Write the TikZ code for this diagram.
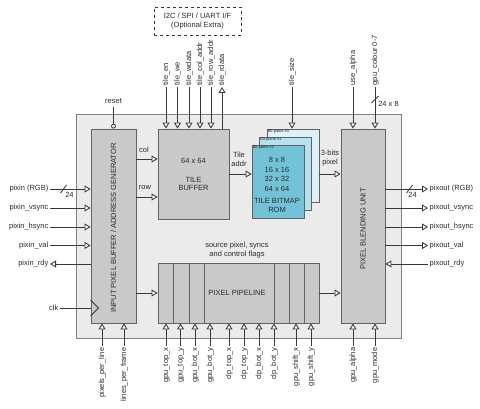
\documentclass[tikz,border=0pt]{standalone}
\usepackage{fontspec}
\setmainfont{Liberation Sans}
\usetikzlibrary{arrows.meta}
\definecolor{txt}{HTML}{2A2A2A}
\definecolor{wire}{HTML}{383838}
\definecolor{edge}{HTML}{626262}
\definecolor{outerfill}{HTML}{EBEBEB}
\definecolor{outeredge}{HTML}{808080}
\definecolor{blkfill}{HTML}{C9C9C9}
\definecolor{bpa}{HTML}{DDF1F7}
\definecolor{bpb}{HTML}{B8E1EE}
\definecolor{bpc}{HTML}{72C3D8}
\begin{document}
\begin{tikzpicture}[x=1pt,y=-1pt,
  font=\fontsize{7.5}{8.6}\selectfont, text=txt,
  blk/.style={draw=edge, fill=blkfill, line width=0.9pt, inner sep=0pt},
  bitp/.style={draw=edge, line width=0.9pt, inner sep=0pt, minimum width=52pt, minimum height=73pt},
  lab/.style={inner sep=1.5pt, text=txt, text height=5.6pt, text depth=1.6pt},
  vlab/.style={lab, rotate=90},
  plain/.style={inner sep=0pt, text=txt, align=center},
  sig/.style={draw=wire, line width=0.85pt, -{Triangle[length=6pt,width=7pt,fill=white]}},
  wireline/.style={draw=wire, line width=0.85pt},
  bplab/.style={inner sep=1pt, anchor=north west, font=\fontsize{4}{4}\selectfont, text=txt}
]
\useasboundingbox (0,0) rectangle (480,409);

% optional interface
\node[draw=wire, dashed, line width=0.85pt, minimum width=87pt, minimum height=28pt, align=center, inner sep=0pt] (iface) at (197.5,21) {I2C / SPI / UART I/F\\(Optional Extra)};

% outer frame
\node[draw=outeredge, fill=outerfill, line width=0.9pt, minimum width=325pt, minimum height=224pt, inner sep=0pt] (outer) at (238.5,226) {};

% blocks
\node[blk, minimum width=45pt, minimum height=194pt] (ipb) at (113.5,226) {};
\node[blk, minimum width=71pt, minimum height=90pt] (tb) at (193.5,174) {};
\node[blk, minimum width=44pt, minimum height=194pt] (pbu) at (363,226) {};
\node[blk, minimum width=161pt, minimum height=60pt] (pp) at (238.5,293) {};
\foreach \xx in {173,189,204,274,289,304}
  \draw[draw=edge, line width=0.9pt] (pp.north -| {(\xx,0)}) -- (pp.south -| {(\xx,0)});

\node[bitp, fill=bpa] (bp0) at (293,165.5) {};
\node[bitp, fill=bpb] (bp1) at (285.5,173.5) {};
\node[bitp, fill=bpc] (bp2) at (278,181.5) {};
\node[bplab] (bpl0) at (bp0.north west) {Bit-plane \#0};
\node[bplab] (bpl1) at (bp1.north west) {Bit-plane \#1};
\node[bplab] (bpl2) at (bp2.north west) {Bit-plane \#2};

% block texts
\node[plain, rotate=90] (ipbt) at (113.5,228) {INPUT PIXEL BUFFER / ADDRESS GENERATOR};
\node[plain, rotate=90] (pbut) at (363,229) {PIXEL BLENDING UNIT};
\node[plain] (tbt1) at (193.5,161) {64 x 64};
\node[plain] (tbt2) at (193.5,184) {TILE\\BUFFER};
\node[plain] (ppt) at (237,293) {PIXEL PIPELINE};
\node[plain] (rt1) at (277,160) {8 x 8};
\node[plain] (rt2) at (277,169.5) {16 x 16};
\node[plain] (rt3) at (277,179) {32 x 32};
\node[plain] (rt4) at (277,188.5) {64 x 64};
\node[plain] (rt5) at (277,205.5) {TILE BITMAP\\ROM};
\node[plain] (src) at (237,250) {source pixel, syncs\\and control flags};

% internal connections
\coordinate (ycol) at (0,159);
\coordinate (yrow) at (0,197);
\node[plain] (colt) at (144,150) {col};
\node[plain] (rowt) at (145,188) {row};
\draw[sig] (ipb.east |- ycol) -- (tb.west |- ycol);
\draw[sig] (ipb.east |- yrow) -- (tb.west |- yrow);
\node[plain] (tat) at (239,159.5) {Tile\\addr};
\node[plain] (bpt) at (330,158) {3-bits\\pixel};
\draw[sig] (tb.east) -- (tb.east -| bp2.west);
\draw[sig] (tb.east -| bp0.east) -- (tb.east -| pbu.west);
\draw[sig] (ipb.east |- pp.west) -- (pp.west);
\draw[sig] (pp.east) -- (pp.east -| pbu.west);

% reset
\node[lab] (rst) at (113.5,102) {reset};
\node[circle, draw=wire, fill=white, line width=0.85pt, inner sep=0pt, minimum size=4pt, anchor=south] (rstc) at (ipb.north) {};
\draw[wireline] (rst.south) -- (rstc.north);

% left signals
\node[lab, anchor=east] (pin) at (50,189) {pixin (RGB)};
\node[lab, anchor=east] (pvs) at (50,208) {pixin\_vsync};
\node[lab, anchor=east] (phs) at (50,227) {pixin\_hsync};
\node[lab, anchor=east] (pvl) at (50,245.5) {pixin\_val};
\node[lab, anchor=east] (prd) at (50,264) {pixin\_rdy};
\node[lab, anchor=east] (clk) at (60,308) {clk};
\draw[sig] (pin.east) -- (pin.east -| ipb.west);
\draw[sig] (pvs.east) -- (pvs.east -| ipb.west);
\draw[sig] (phs.east) -- (phs.east -| ipb.west);
\draw[sig] (pvl.east) -- (pvl.east -| ipb.west);
\draw[sig] (prd.east -| ipb.west) -- (prd.east);
\draw[wireline] (clk.east) -- (clk.east -| ipb.west);
\draw[wireline] (clk.east -| ipb.west) ++(0,-8) -- ++(8,8) -- ++(-8,8);
\coordinate (sl1) at (63.5,189);
\draw[wireline] (sl1) ++(-3,4) -- ++(6,-8);
\node[plain] (w1) at (69.5,194.5) {24};

% right signals
\node[lab, anchor=west] (pout) at (428,189) {pixout (RGB)};
\node[lab, anchor=west] (povs) at (428,208) {pixout\_vsync};
\node[lab, anchor=west] (pohs) at (428,227) {pixout\_hsync};
\node[lab, anchor=west] (povl) at (428,245.5) {pixout\_val};
\node[lab, anchor=west] (pord) at (428,264) {pixout\_rdy};
\draw[sig] (pout.west -| pbu.east) -- (pout.west);
\draw[sig] (povs.west -| pbu.east) -- (povs.west);
\draw[sig] (pohs.west -| pbu.east) -- (pohs.west);
\draw[sig] (povl.west -| pbu.east) -- (povl.west);
\draw[sig] (pord.west) -- (pord.west -| pbu.east);
\coordinate (sl2) at (409.5,189);
\draw[wireline] (sl2) ++(-3,4) -- ++(6,-8);
\node[plain] (w2) at (412.5,194.5) {24};

% top signals
\node[vlab, anchor=west] (ten) at (166,87) {tile\_en};
\node[vlab, anchor=west] (twe) at (177.5,87) {tile\_we};
\node[vlab, anchor=west] (twd) at (189,87) {tile\_wdata};
\node[vlab, anchor=west] (tca) at (200,87) {tile\_col\_addr};
\node[vlab, anchor=west] (tra) at (211,87) {tile\_row\_addr};
\node[vlab, anchor=west] (trd) at (222,87) {tile\_rdata};
\node[vlab, anchor=west] (tsz) at (292,87) {tile\_size};
\node[vlab, anchor=west] (ual) at (353,87) {use\_alpha};
\node[vlab, anchor=west] (gcl) at (375,87) {gpu\_colour 0-7};
\foreach \n in {ten,twe,twd,tca,tra}
  \draw[sig] (\n.west) -- (\n.west |- tb.north);
\draw[sig] (trd.west |- tb.north) -- (trd.west);
\draw[sig] (tsz.west) -- (tsz.west |- bp0.north);
\draw[sig] (ual.west) -- (ual.west |- pbu.north);
\draw[sig] (gcl.west) -- (gcl.west |- pbu.north);
\coordinate (sl3) at (375,99.5);
\draw[wireline] (sl3) ++(-3.5,3.5) -- ++(7,-7);
\node[plain] (w3) at (388.5,104) {24 x 8};

% bottom signals
\node[vlab, anchor=east] (ppl) at (102,346) {pixels\_per\_line};
\node[vlab, anchor=east] (lpf) at (124,346) {lines\_per\_frame};
\node[vlab, anchor=east] (gtx) at (166,346) {gpu\_top\_x};
\node[vlab, anchor=east] (gty) at (180.5,346) {gpu\_top\_y};
\node[vlab, anchor=east] (gbx) at (195,346) {gpu\_bot\_x};
\node[vlab, anchor=east] (gby) at (210,346) {gpu\_bot\_y};
\node[vlab, anchor=east] (ctx) at (229,346) {clp\_top\_x};
\node[vlab, anchor=east] (cty) at (244,346) {clp\_top\_y};
\node[vlab, anchor=east] (cbx) at (259,346) {clp\_bot\_x};
\node[vlab, anchor=east] (cby) at (274,346) {clp\_bot\_y};
\node[vlab, anchor=east] (gsx) at (296,346) {gpu\_shift\_x};
\node[vlab, anchor=east] (gsy) at (311,346) {gpu\_shift\_y};
\node[vlab, anchor=east] (gal) at (353,346) {gpu\_alpha};
\node[vlab, anchor=east] (gmd) at (375,346) {gpu\_mode};
\foreach \n in {ppl,lpf}
  \draw[sig] (\n.east) -- (\n.east |- ipb.south);
\foreach \n in {gtx,gty,gbx,gby,ctx,cty,cbx,cby,gsx,gsy}
  \draw[sig] (\n.east) -- (\n.east |- pp.south);
\foreach \n in {gal,gmd}
  \draw[sig] (\n.east) -- (\n.east |- pbu.south);
\end{tikzpicture}
\end{document}
